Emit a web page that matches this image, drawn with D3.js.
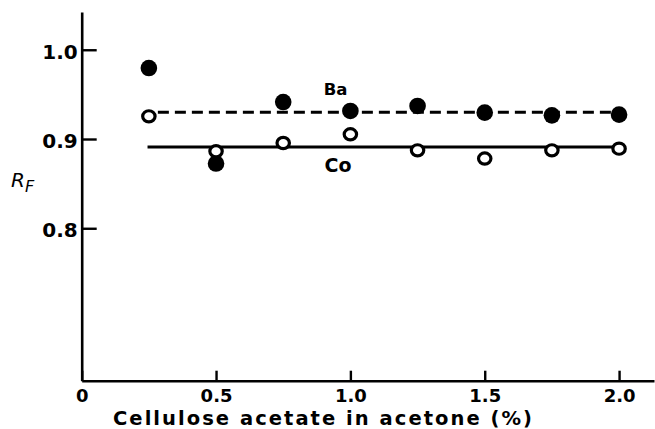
<!DOCTYPE html>
<html>
<head>
<meta charset="utf-8">
<script src="https://cdn.jsdelivr.net/npm/d3@7"></script>
<style>
  html, body { margin: 0; padding: 0; background: #fff; }
  svg { display: block; }
  text { font-family: "DejaVu Sans", sans-serif; fill: #000; }
</style>
</head>
<body>
<svg id="chart" width="655" height="429"></svg>
<script>
// ---- data ----
const concentrations = [0.25, 0.5, 0.75, 1.0, 1.25, 1.5, 1.75, 2.0];
const baValues = [0.9795, 0.8725, 0.9414, 0.9314, 0.9370, 0.9296, 0.9265, 0.9273];
const coValues = [0.9254, 0.8862, 0.8955, 0.9053, 0.8873, 0.8781, 0.8873, 0.8892];
const baMean = 0.930;
const coMean = 0.891;
const meanLineX = [0.25, 2.0];
const xTicks = [0, 0.5, 1.0, 1.5, 2.0];
const xTickLabels = ["0", "0.5", "1.0", "1.5", "2.0"];
const yTicks = [0.8, 0.9, 1.0];
const yTickLabels = ["0.8", "0.9", "1.0"];
const seriesLabels = ["Ba", "Co"];
const xTitle = "Cellulose acetate in acetone (%)";

// ---- layout ----
const svg = d3.select("#chart");
const x = d3.scaleLinear().domain([0, 2.13]).range([81.7, 654]);
const y = d3.scaleLinear().domain([0.6292, 1.0423]).range([380.7, 12]);
const ink = "#000";

// axes
const xAxis = d3.axisBottom(x)
  .tickValues(xTicks)
  .tickFormat((d, i) => xTickLabels[i])
  .tickSizeInner(-10)
  .tickSizeOuter(0)
  .tickPadding(8.5);
const gx = svg.append("g").attr("transform", `translate(0,${y.range()[0]})`).call(xAxis);
gx.select(".domain").attr("stroke", ink).attr("stroke-width", 2.6);
gx.selectAll(".tick line").attr("stroke", ink).attr("stroke-width", 2.4);
gx.selectAll(".tick text")
  .attr("font-size", 18).attr("font-weight", "bold")
  .attr("font-family", "DejaVu Sans").attr("fill", ink);

const yAxis = d3.axisLeft(y)
  .tickValues(yTicks)
  .tickFormat((d, i) => yTickLabels[i])
  .tickSizeInner(-15)
  .tickSizeOuter(0)
  .tickPadding(4);
const gy = svg.append("g").attr("transform", `translate(${x.range()[0]},0)`).call(yAxis);
gy.select(".domain").attr("stroke", ink).attr("stroke-width", 2.6);
gy.selectAll(".tick line").attr("stroke", ink).attr("stroke-width", 2.4);
gy.selectAll(".tick text")
  .attr("font-size", 20).attr("font-weight", "bold")
  .attr("font-family", "DejaVu Sans").attr("fill", ink)
  .attr("dy", "0.42em");

// mean lines
const line = d3.line().x(d => x(d[0])).y(d => y(d[1]));
svg.append("path")
  .attr("d", line(meanLineX.map(v => [v, baMean])))
  .attr("fill", "none").attr("stroke", ink).attr("stroke-width", 2.8)
  .attr("stroke-dasharray", "11,6").attr("stroke-dashoffset", -9);
svg.append("path")
  .attr("d", line(meanLineX.map(v => [v - 0.005, coMean])))
  .attr("fill", "none").attr("stroke", ink).attr("stroke-width", 3);

// points: filled Ba first, then open Co on top
svg.append("g").selectAll("circle")
  .data(concentrations.map((c, i) => [c, baValues[i]]))
  .join("circle")
  .attr("cx", d => x(d[0])).attr("cy", d => y(d[1]))
  .attr("r", 8.3).attr("fill", ink);

svg.append("g").selectAll("ellipse")
  .data(concentrations.map((c, i) => [c, coValues[i]]))
  .join("ellipse")
  .attr("cx", d => x(d[0])).attr("cy", d => y(d[1]))
  .attr("rx", 6.2).attr("ry", 5.6)
  .attr("fill", "#fff").attr("stroke", ink).attr("stroke-width", 3.2);

// series labels
svg.append("text").attr("x", x(0.945)).attr("y", y(0.9493))
  .attr("text-anchor", "middle").attr("font-size", 16.5).attr("font-weight", "bold")
  .text(seriesLabels[0]);
svg.append("text").attr("x", x(0.954)).attr("y", y(0.863))
  .attr("text-anchor", "middle").attr("font-size", 19).attr("font-weight", "bold")
  .text(seriesLabels[1]);

// y title R_F
const rf = svg.append("text").attr("x", 11).attr("y", 187)
  .attr("font-size", 20).attr("font-style", "italic");
rf.append("tspan").text("R");
rf.append("tspan").attr("font-size", 16).attr("dy", 5).attr("dx", 0).text("F");

// x title
svg.append("text")
  .attr("x", 113).attr("y", 424.8)
  .attr("font-size", 19.5).attr("font-weight", "bold")
  .attr("textLength", 419).attr("lengthAdjust", "spacing")
  .text(xTitle);
</script>
</body>
</html>
